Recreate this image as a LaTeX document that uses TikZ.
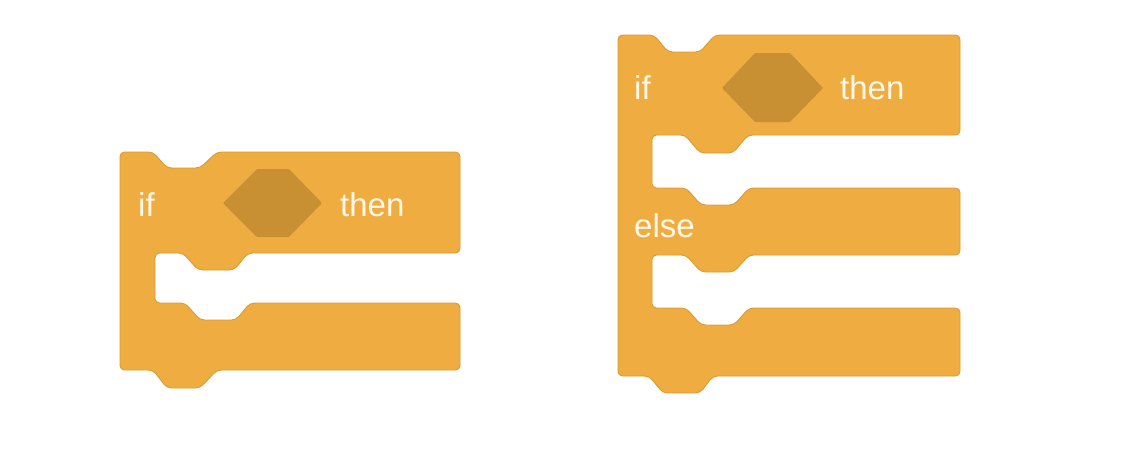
\documentclass[tikz,border=0pt]{standalone}
\usepackage{fontspec}
\setmainfont{Liberation Sans}
\definecolor{blockfill}{HTML}{EFAD41}
\definecolor{blockline}{HTML}{D99B37}
\definecolor{hexfill}{HTML}{C98F33}
\definecolor{labeltxt}{HTML}{FFF8E8}
\tikzset{
  block/.style={fill=blockfill, draw=blockline, line width=0.9pt, rounded corners=4.5pt, line join=round},
  hexslot/.style={fill=hexfill, draw=none, rounded corners=1pt},
  label/.style={anchor=base west, inner sep=0pt, text=labeltxt, font=\fontsize{33}{40}\selectfont}
}
\begin{document}
\begin{tikzpicture}[x=1pt,y=-1pt]
\useasboundingbox (0,0) rectangle (1140,458);
\fill[white] (0,0) rectangle (1140,458);

% ---- left block: if-then ----
\draw[block] (120,152) -- (153,152) -- (167,168) -- (200,168) -- (217,152) -- (460,152)
  -- (460,253) -- (248,253) -- (234,270) -- (198,270) -- (183,253) -- (155,253)
  -- (155,303) -- (185,303) -- (200,320) -- (236,320) -- (250,303) -- (460,303)
  -- (460,370) -- (217,370) -- (200,388) -- (167,388) -- (153,370) -- (120,370) -- cycle;
\fill[hexslot] (223,203) -- (257,169) -- (289,169) -- (322,203) -- (289,237) -- (257,237) -- cycle;
\node[label] (ifA) at (138,216) {if};
\node[label] (thenA) at (340,216) {then};

% ---- right block: if-then-else ----
\draw[block] (618,35) -- (654,35) -- (668,52) -- (700,52) -- (715,35) -- (960,35)
  -- (960,135) -- (748,135) -- (733,153) -- (700,153) -- (685,135) -- (652,135)
  -- (652,188) -- (686,188) -- (701,205) -- (734,205) -- (749,188) -- (960,188)
  -- (960,255) -- (749,255) -- (734,272) -- (701,272) -- (686,255) -- (652,255)
  -- (652,308) -- (686,308) -- (701,325) -- (734,325) -- (749,308) -- (960,308)
  -- (960,376) -- (713,376) -- (700,393) -- (663,393) -- (649,376) -- (618,376) -- cycle;
\fill[hexslot] (722,88) -- (755,53) -- (790,53) -- (823,88) -- (790,122) -- (755,122) -- cycle;
\node[label] (ifB) at (634,99) {if};
\node[label] (thenB) at (840,99) {then};
\node[label] (elseB) at (634,237) {else};
\end{tikzpicture}
\end{document}
